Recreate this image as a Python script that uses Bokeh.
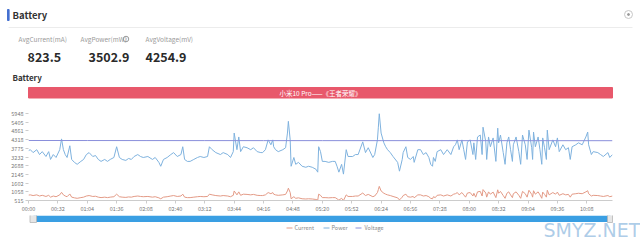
from bokeh.plotting import figure
from bokeh.layouts import column
from bokeh.models import Range1d, FixedTicker, CustomJSTickFormatter, Label
from bokeh.embed import file_html
from bokeh.resources import INLINE

FONT = "Noto Sans CJK SC"

# ---------------- data ----------------
time_s = [
    0, 2, 5, 9, 12, 15, 19, 22, 24, 27,
    30, 34, 36, 38, 40, 42, 45, 47, 50, 53,
    57, 60, 63, 66, 70, 73, 76, 79, 83, 86,
    89, 93, 96, 99, 102, 106, 109, 112, 115, 119,
    122, 125, 130, 135, 138, 142, 144, 147, 151, 155,
    158, 162, 166, 168, 170, 173, 176, 180, 184, 187,
    191, 195, 197, 200, 204, 209, 212, 217, 220, 223,
    224, 227, 229, 231, 234, 238, 242, 245, 249, 253,
    255, 258, 261, 264, 266, 267, 269, 272, 277, 280,
    282, 283, 285, 286, 289, 291, 294, 298, 302, 305,
    309, 313, 315, 316, 318, 320, 323, 327, 331, 334,
    336, 338, 341, 343, 346, 348, 353, 356, 359, 364,
    367, 370, 375, 377, 380, 381, 382, 384, 387, 389,
    391, 394, 397, 402, 404, 407, 408, 411, 413, 416,
    419, 420, 424, 427, 430, 433, 436, 438, 440, 441,
    443, 445, 449, 452, 456, 460, 463, 465, 467, 469,
    472, 474, 476, 478, 481, 484, 485, 487, 489, 492,
    494, 495, 498, 499, 501, 503, 506, 509, 511, 512,
    514, 517, 519, 521, 523, 525, 527, 528, 531, 534,
    536, 538, 541, 543, 545, 548, 549, 550, 552, 555,
    557, 559, 560, 562, 564, 565, 567, 571, 574, 576,
    578, 582, 585, 588, 590, 592, 596, 599, 603, 607,
    609, 610, 613, 615, 620, 623, 626, 631, 633, 636,
]

power_mw = [
    3628, 3689, 3506, 3689, 3384, 3567, 3262, 3567, 3079, 3384,
    3201, 3689, 4361, 3689, 3384, 3201, 3933, 3079, 2896, 2774,
    2957, 3079, 3384, 3506, 3262, 3323, 3079, 2957, 3079, 2957,
    3079, 3201, 3872, 3201, 3079, 3018, 3140, 3079, 3262, 3384,
    3262, 3201, 3262, 3079, 3201, 2896, 2652, 3079, 3201, 3384,
    3506, 3262, 3384, 3872, 3079, 2957, 2957, 3079, 3201, 3262,
    3201, 3262, 3872, 3689, 3506, 3384, 3506, 3384, 3201, 3567,
    4727, 3689, 4483, 3567, 3872, 3811, 3689, 3811, 3567, 3506,
    3506, 3689, 4300, 3994, 4300, 3872, 3689, 3567, 3689, 3811,
    4727, 5459, 4300, 2652, 3201, 2774, 2896, 2652, 2590, 2652,
    2590, 2468, 2285, 3872, 3567, 2957, 2957, 2896, 2957, 2957,
    2652, 2285, 2774, 2163, 3689, 3262, 3262, 3384, 3384, 4177,
    3506, 3811, 3201, 3384, 4300, 5093, 5948, 4727, 4116, 3872,
    3689, 3506, 3262, 2896, 2346, 3079, 3506, 3872, 3201, 3079,
    3262, 2896, 3689, 3689, 3384, 3506, 3201, 2774, 2652, 3201,
    2957, 3567, 3689, 3384, 3689, 3384, 3872, 3994, 4300, 3689,
    4300, 3689, 3079, 4177, 4300, 3384, 4116, 3079, 4483, 4605,
    3384, 5093, 4177, 3079, 4483, 3872, 4422, 2957, 5032, 4116,
    4605, 3506, 2774, 4116, 4483, 3689, 2957, 3994, 4483, 3567,
    2774, 4605, 3994, 3079, 4910, 3811, 3079, 4788, 3872, 4483,
    3689, 2774, 4422, 3811, 3079, 4910, 3689, 4300, 3872, 4422,
    3567, 3994, 3689, 3811, 3079, 3872, 3994, 4116, 3994, 4483,
    4788, 3994, 3384, 3567, 3506, 3384, 3262, 3506, 3201, 3384,
]

current_ma = [
    853, 867, 824, 867, 795, 838, 767, 838, 724, 795,
    752, 867, 1025, 867, 795, 752, 924, 724, 681, 652,
    695, 724, 795, 824, 767, 781, 724, 695, 724, 695,
    724, 752, 910, 752, 724, 709, 738, 724, 767, 795,
    767, 752, 767, 724, 752, 681, 623, 724, 752, 795,
    824, 767, 795, 910, 724, 695, 695, 724, 752, 767,
    752, 767, 910, 867, 824, 795, 824, 795, 752, 838,
    1111, 867, 1054, 838, 910, 896, 867, 896, 838, 824,
    824, 867, 1011, 939, 1011, 910, 867, 838, 867, 896,
    1111, 1283, 1011, 623, 752, 652, 681, 623, 609, 623,
    609, 580, 537, 910, 838, 695, 695, 681, 695, 695,
    623, 537, 652, 515, 867, 767, 767, 795, 795, 982,
    824, 896, 752, 795, 1011, 1197, 1398, 1111, 967, 910,
    867, 824, 767, 681, 551, 724, 824, 910, 752, 724,
    767, 681, 867, 867, 795, 824, 752, 652, 623, 752,
    695, 838, 867, 795, 867, 795, 910, 939, 1011, 867,
    1011, 867, 724, 982, 1011, 795, 967, 724, 1054, 1082,
    795, 1197, 982, 724, 1054, 910, 1039, 695, 1183, 967,
    1082, 824, 652, 967, 1054, 867, 695, 939, 1054, 838,
    652, 1082, 939, 724, 1154, 896, 724, 1125, 910, 1054,
    867, 652, 1039, 896, 724, 1154, 867, 1011, 910, 1039,
    838, 939, 867, 896, 724, 910, 939, 967, 939, 1054,
    1125, 939, 795, 838, 824, 795, 767, 824, 752, 795,
]

voltage_t = [0, 64, 128, 192, 256, 320, 384, 448, 512, 576, 636]
voltage_mv = [4262, 4259, 4257, 4256, 4255, 4254, 4254, 4253, 4252, 4251, 4250]

series_names = ["Current", "Power", "Voltage"]
series_colors = ["#e39a86", "#7fb2de", "#8a8fdb"]
stat_labels = ["AvgCurrent(mA)", "AvgPower(mW)", "AvgVoltage(mV)"]
stat_values = ["823.5", "3502.9", "4254.9"]
section_title = "Battery"
chart_title = "小米10 Pro——《王者荣耀》"
tick_step_s = 32
n_y_intervals = 10


def blank(h, y0, y1):
    f = figure(width=640, height=h, x_range=Range1d(0, 640), y_range=Range1d(y1, y0),
               x_axis_location=None, y_axis_location=None, toolbar_location=None,
               output_backend="svg", min_border=0, outline_line_color=None,
               background_fill_color="white", border_fill_color="white",
               frame_align=False)
    f.grid.visible = False
    return f


# ---------------- header ----------------
hdr = blank(102, 0, 102)
hdr.quad(left=7, right=8.6, top=9, bottom=20, color="#4470d0")
hdr.add_layout(Label(x=12, y=14.5, text=section_title, text_font=FONT, text_font_size="9.5px",
                     text_font_style="bold", text_color="#333333", text_baseline="middle"))
hdr.segment(x0=[8], y0=[27], x1=[632], y1=[27], line_color="#ececec", line_width=1)
hdr.scatter(x=[628], y=[14], size=8, marker="circle", fill_color=None, line_color="#c8c8c8")
hdr.scatter(x=[628], y=[14], size=2, marker="circle", color="#999999")

lab_x = [18, 80, 145]
val_x = [27, 88, 145]
for lx, vx, lt, vt in zip(lab_x, val_x, stat_labels, stat_values):
    hdr.add_layout(Label(x=lx, y=38.5, text=lt, text_font=FONT, text_font_size="6.5px",
                         text_color="#9a9a9a", text_baseline="middle"))
    hdr.add_layout(Label(x=vx, y=56, text=vt, text_font=FONT, text_font_size="12.5px",
                         text_font_style="bold", text_color="#2a2a2a", text_baseline="middle"))
hdr.scatter(x=[125.5], y=[38.5], size=5.5, marker="circle", fill_color=None, line_color="#9a9a9a")
hdr.add_layout(Label(x=125.5, y=38.8, text="?", text_font=FONT, text_font_size="4.5px",
                     text_color="#9a9a9a", text_baseline="middle", text_align="center"))

hdr.add_layout(Label(x=12, y=77, text=section_title, text_font=FONT, text_font_size="8px",
                     text_font_style="bold", text_color="#333333", text_baseline="middle"))
hdr.quad(left=28, right=612, top=87, bottom=97.5, color="#e8586b")
hdr.add_layout(Label(x=320, y=92.3, text=chart_title, text_font=FONT, text_font_size="6.5px",
                     text_color="white", text_baseline="middle", text_align="center"))

# ---------------- main chart ----------------
ymin = min(current_ma)
ymax = max(power_mw)
p = figure(width=640, height=113, x_range=Range1d(0, time_s[-1]), y_range=Range1d(ymin, ymax),
           min_border_left=28, min_border_right=28, min_border_top=11, min_border_bottom=13,
           toolbar_location=None, output_backend="svg", outline_line_color=None,
           background_fill_color="white", border_fill_color="white", frame_align=False)
p.grid.visible = False

p.line(time_s, current_ma, line_color=series_colors[0], line_width=1)
p.line(time_s, power_mw, line_color=series_colors[1], line_width=1)
p.line(voltage_t, voltage_mv, line_color=series_colors[2], line_width=1)

step = (ymax - ymin) / n_y_intervals
p.yaxis.ticker = FixedTicker(ticks=[ymin + k * step for k in range(n_y_intervals + 1)])
p.yaxis.formatter = CustomJSTickFormatter(code="return Math.round(tick).toString();")
p.xaxis.ticker = FixedTicker(ticks=list(range(0, time_s[-1] + 1, tick_step_s)))
p.xaxis.formatter = CustomJSTickFormatter(code="""
    const m = Math.floor(tick / 60), s = Math.round(tick % 60);
    return String(m).padStart(2, '0') + ':' + String(s).padStart(2, '0');
""")
for ax in (p.xaxis[0], p.yaxis[0]):
    ax.major_label_text_font = FONT
    ax.major_label_text_font_size = "5.5px"
    ax.major_label_text_color = "#777777"
    ax.major_tick_line_color = "#cccccc"
    ax.major_tick_out = 3
    ax.major_tick_in = 0
    ax.minor_tick_line_color = None
p.yaxis.axis_line_color = None
p.yaxis.major_label_standoff = 2
p.xaxis.axis_line_color = "#cccccc"
p.xaxis.major_label_standoff = 1

# ---------------- footer: zoom slider + legend ----------------
ftr = blank(27, 215, 242)
ftr.quad(left=33, right=610, top=215.5, bottom=221, color="#3a9fe3")
ftr.quad(left=[29.5, 607], right=[36, 612], top=[214, 214], bottom=[222, 222],
         fill_color="#e6e6e6", line_color="#b5b5b5", line_width=0.8)

leg_line_x = [286, 323, 355]
leg_text_x = [294, 331, 364]
for lx, tx, name, col in zip(leg_line_x, leg_text_x, series_names, series_colors):
    ftr.segment(x0=[lx], y0=[227.5], x1=[lx + 6], y1=[227.5], line_color=col, line_width=1.2)
    ftr.add_layout(Label(x=tx, y=227.8, text=name, text_font=FONT, text_font_size="5.5px",
                         text_color="#888888", text_baseline="middle"))

ftr.add_layout(Label(x=543, y=229, text="SMYZ.NET", text_font="DejaVu Sans", text_font_size="19px",
                     text_color="#9fc4e4", text_alpha=0.85, text_baseline="middle"))

layout = column(hdr, p, ftr, spacing=0)
open("out.html", "w").write(file_html(layout, INLINE))
